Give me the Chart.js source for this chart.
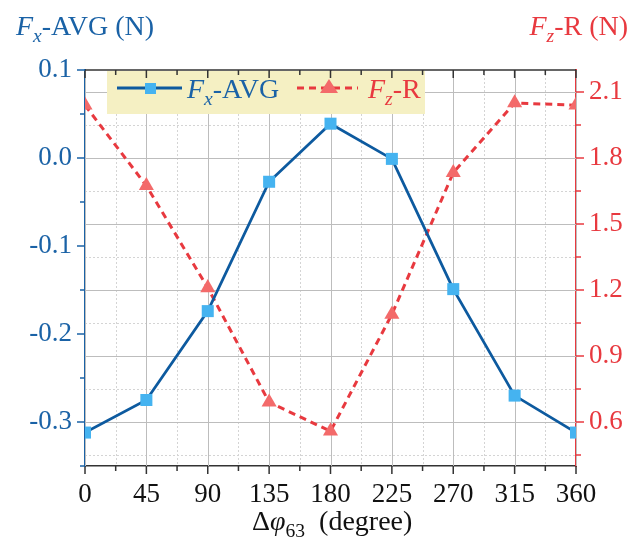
<!DOCTYPE html>
<html>
<head>
<meta charset="utf-8">
<script src="https://cdn.jsdelivr.net/npm/chart.js@4.4.1/dist/chart.umd.min.js"></script>
<style>
  html, body { margin: 0; padding: 0; background: #fff; }
</style>
</head>
<body>
<canvas id="chart" width="634" height="545"></canvas>
<script>
// data
const angles = [0, 45, 90, 135, 180, 225, 270, 315, 360];
const fxAvg = [-0.312, -0.275, -0.174, -0.027, 0.039, -0.001, -0.149, -0.270, -0.312];
const fzR = [2.04, 1.674, 1.21, 0.69, 0.558, 1.089, 1.733, 2.05, 2.04];

const xTicks = [0, 45, 90, 135, 180, 225, 270, 315, 360];
const xMinor = [22.5, 67.5, 112.5, 157.5, 202.5, 247.5, 292.5, 337.5];
const leftTicks = [0.1, 0.0, -0.1, -0.2, -0.3];
const leftMinor = [0.05, -0.05, -0.15, -0.25, -0.35];
const rightTicks = [0.6, 0.9, 1.2, 1.5, 1.8, 2.1];
const rightMinor = [0.45, 0.75, 1.05, 1.35, 1.65, 1.95];

const BLUE = '#1a62a6';
const BLUE_LINE = '#0d5a9f';
const BLUE_PT = '#45b3f0';
const RED = '#e8393f';
const RED_PT = '#f36a6a';
const SERIF = '"Liberation Serif", "Times New Roman", serif';

// text made of pieces: {t, it (italic), sub}
function richWidth(ctx, parts, size) {
    let w = 0;
    parts.forEach(p => {
        const s = p.sub ? size * 0.7 : size;
        ctx.font = (p.it ? 'italic ' : '') + s + 'px ' + SERIF;
        w += ctx.measureText(p.t).width;
    });
    return w;
}
function drawRich(ctx, parts, x, y, size, color) {
    ctx.save();
    ctx.fillStyle = color;
    ctx.textBaseline = 'alphabetic';
    ctx.textAlign = 'left';
    parts.forEach(p => {
        const s = p.sub ? size * 0.7 : size;
        ctx.font = (p.it ? 'italic ' : '') + s + 'px ' + SERIF;
        ctx.fillText(p.t, x, p.sub ? y + size * 0.25 : y);
        x += ctx.measureText(p.t).width;
    });
    ctx.restore();
    return x;
}

const decor = {
    id: 'decor',
    beforeDatasetsDraw(chart) {
        const { ctx, chartArea: a, scales } = chart;
        ctx.save();
        ctx.lineWidth = 1;
        const vline = (v, dash, color) => {
            const px = Math.round(scales.x.getPixelForValue(v)) + 0.5;
            ctx.setLineDash(dash); ctx.strokeStyle = color;
            ctx.beginPath(); ctx.moveTo(px, a.top); ctx.lineTo(px, a.bottom); ctx.stroke();
        };
        const hline = (v, dash, color) => {
            const py = Math.round(scales.y2.getPixelForValue(v)) + 0.5;
            ctx.setLineDash(dash); ctx.strokeStyle = color;
            ctx.beginPath(); ctx.moveTo(a.left, py); ctx.lineTo(a.right, py); ctx.stroke();
        };
        xMinor.forEach(v => vline(v, [2, 2], '#d4d4d4'));
        rightMinor.forEach(v => hline(v, [2, 2], '#d4d4d4'));
        xTicks.forEach(v => vline(v, [], '#bdbdbd'));
        rightTicks.forEach(v => hline(v, [], '#bdbdbd'));
        ctx.restore();
    },
    afterDatasetsDraw(chart) {
        const { ctx, chartArea: a, scales } = chart;
        ctx.save();

        // legend box
        ctx.fillStyle = '#f5f0c3';
        ctx.fillRect(107, 71, 318, 43);
        const ly = 88;
        ctx.lineWidth = 3;
        ctx.strokeStyle = BLUE_LINE;
        ctx.beginPath(); ctx.moveTo(117, ly); ctx.lineTo(182, ly); ctx.stroke();
        ctx.fillStyle = BLUE_PT;
        ctx.fillRect(145, ly - 5, 11, 11);
        drawRich(ctx, [{ t: 'F', it: true }, { t: 'x', it: true, sub: true }, { t: '-AVG' }], 187, 98, 28, BLUE);
        ctx.strokeStyle = RED;
        ctx.setLineDash([7, 5]);
        ctx.beginPath(); ctx.moveTo(297, ly); ctx.lineTo(358, ly); ctx.stroke();
        ctx.setLineDash([]);
        ctx.fillStyle = RED_PT;
        ctx.beginPath();
        ctx.moveTo(329, ly - 9); ctx.lineTo(338, ly + 5); ctx.lineTo(320, ly + 5); ctx.closePath(); ctx.fill();
        drawRich(ctx, [{ t: 'F', it: true }, { t: 'z', it: true, sub: true }, { t: '-R' }], 368, 98, 28, RED);

        // top frame
        ctx.strokeStyle = '#333';
        ctx.lineWidth = 1.5;
        ctx.beginPath(); ctx.moveTo(a.left, a.top); ctx.lineTo(a.right, a.top); ctx.stroke();

        // tick marks
        const xt = (v, len) => {
            const px = scales.x.getPixelForValue(v);
            ctx.beginPath();
            ctx.moveTo(px, a.bottom); ctx.lineTo(px, a.bottom + len);
            ctx.moveTo(px, a.top); ctx.lineTo(px, a.top + len);
            ctx.stroke();
        };
        ctx.strokeStyle = '#333';
        xTicks.forEach(v => xt(v, 8));
        xMinor.forEach(v => xt(v, 5));
        const lt = (v, len) => {
            const py = scales.y.getPixelForValue(v);
            ctx.beginPath(); ctx.moveTo(a.left, py); ctx.lineTo(a.left - len, py); ctx.stroke();
        };
        ctx.strokeStyle = BLUE;
        leftTicks.forEach(v => lt(v, 8));
        leftMinor.forEach(v => lt(v, 5));
        const rt = (v, len) => {
            const py = scales.y2.getPixelForValue(v);
            ctx.beginPath(); ctx.moveTo(a.right, py); ctx.lineTo(a.right + len, py); ctx.stroke();
        };
        ctx.strokeStyle = RED;
        rightTicks.forEach(v => rt(v, 8));
        rightMinor.forEach(v => rt(v, 5));

        // axis titles
        drawRich(ctx, [{ t: 'F', it: true }, { t: 'x', it: true, sub: true }, { t: '-AVG (N)' }], 16, 35, 28, BLUE);
        const rParts = [{ t: 'F', it: true }, { t: 'z', it: true, sub: true }, { t: '-R (N)' }];
        drawRich(ctx, rParts, 628 - richWidth(ctx, rParts, 28), 35, 28, RED);
        const xParts = [{ t: 'Δ' }, { t: 'φ', it: true }, { t: '63', sub: true }, { t: '  (degree)' }];
        drawRich(ctx, xParts, 252, 530, 28, '#111');

        ctx.restore();
    }
};

const tickFont = { family: SERIF, size: 27 };

const ctx = document.getElementById('chart').getContext('2d');
new Chart(ctx, {
    type: 'line',
    data: {
        datasets: [
            {
                label: 'Fx-AVG',
                data: angles.map((a, i) => ({ x: a, y: fxAvg[i] })),
                yAxisID: 'y',
                borderColor: BLUE_LINE,
                borderWidth: 2.8,
                pointStyle: 'rect',
                pointRadius: 8.5,
                pointBackgroundColor: BLUE_PT,
                pointBorderWidth: 0,
                tension: 0,
                clip: 0
            },
            {
                label: 'Fz-R',
                data: angles.map((a, i) => ({ x: a, y: fzR[i] })),
                yAxisID: 'y2',
                borderColor: RED,
                borderWidth: 3,
                borderDash: [7, 5],
                pointStyle: 'triangle',
                pointRadius: 8.7,
                pointBackgroundColor: RED_PT,
                pointBorderWidth: 0,
                tension: 0,
                clip: 0
            }
        ]
    },
    options: {
        responsive: false,
        animation: false,
        layout: { padding: { top: 70, left: 0, right: 0, bottom: 0 } },
        plugins: { legend: { display: false }, tooltip: { enabled: false } },
        scales: {
            x: {
                type: 'linear',
                min: 0, max: 360,
                afterBuildTicks: s => { s.ticks = xTicks.map(v => ({ value: v })); },
                afterFit: s => { s.height = 79; },
                grid: { display: false, drawTicks: false },
                border: { display: true, color: '#333', width: 1.5 },
                ticks: { color: '#111', padding: 13, maxRotation: 0, font: tickFont, callback: v => String(v) }
            },
            y: {
                position: 'left',
                min: -0.35, max: 0.1,
                afterBuildTicks: s => { s.ticks = leftTicks.map(v => ({ value: v })); },
                afterFit: s => { s.width = 85; },
                grid: { display: false, drawTicks: false },
                border: { display: true, color: BLUE, width: 2 },
                ticks: { color: BLUE, padding: 13, font: tickFont, callback: v => Number(v).toFixed(1) }
            },
            y2: {
                position: 'right',
                min: 0.4, max: 2.2,
                afterBuildTicks: s => { s.ticks = rightTicks.map(v => ({ value: v })); },
                afterFit: s => { s.width = 58; },
                grid: { display: false, drawTicks: false },
                border: { display: true, color: RED, width: 2 },
                ticks: { color: RED, padding: 13, font: tickFont, callback: v => Number(v).toFixed(1) }
            }
        }
    },
    plugins: [decor]
});
</script>
</body>
</html>
